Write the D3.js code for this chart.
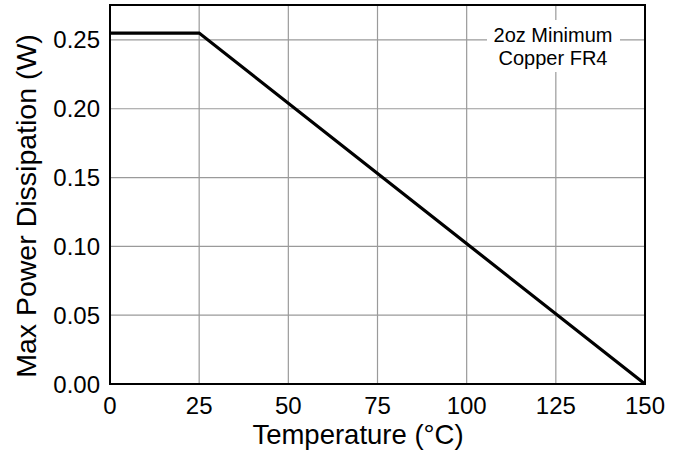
<!DOCTYPE html>
<meta charset="utf-8">
<script src="https://d3js.org/d3.v7.min.js"></script>
<style>
  body { margin: 0; background: #fff; }
  text { font-family: "Liberation Sans", Arial, sans-serif; fill: #000; }
</style>
<svg id="chart" width="683" height="455"></svg>
<script>
  // data
  var temps = [0, 25, 150];
  var power = [0.255, 0.255, 0];
  var xTicks = [0, 25, 50, 75, 100, 125, 150];
  var yTicks = [0, 0.05, 0.10, 0.15, 0.20, 0.25];

  var svg = d3.select("#chart");
  var plotL = 110, plotR = 645, plotT = 5, plotB = 384;

  var x = d3.scaleLinear().domain([0, 150]).range([plotL, plotR]);
  var y = d3.scaleLinear().domain([0, 0.2754]).range([plotB, plotT]);

  // grid
  var grid = svg.append("g").attr("stroke", "#9a9a9a").attr("stroke-width", 1.2);
  grid.selectAll("line.v").data(xTicks.slice(1, -1)).enter().append("line")
    .attr("x1", d => x(d)).attr("x2", d => x(d))
    .attr("y1", plotT).attr("y2", plotB);
  grid.selectAll("line.h").data(yTicks.slice(1)).enter().append("line")
    .attr("x1", plotL).attr("x2", plotR)
    .attr("y1", d => y(d)).attr("y2", d => y(d));

  // note box
  svg.append("rect").attr("x", 487).attr("y", 20).attr("width", 133).attr("height", 52).attr("fill", "#fff");
  var note = svg.append("text").attr("text-anchor", "middle").style("font-size", "20px");
  note.append("tspan").attr("x", 553).attr("y", 42).text("2oz Minimum");
  note.append("tspan").attr("x", 553).attr("y", 65).text("Copper FR4");

  // frame
  svg.append("rect").attr("x", plotL).attr("y", plotT)
    .attr("width", plotR - plotL).attr("height", plotB - plotT)
    .attr("fill", "none").attr("stroke", "#000").attr("stroke-width", 2);

  // curve
  var line = d3.line().x((d, i) => x(temps[i])).y(d => y(d));
  svg.append("path").datum(power).attr("d", line)
    .attr("fill", "none").attr("stroke", "#000").attr("stroke-width", 3.2);

  // tick labels
  svg.selectAll("text.xt").data(xTicks).enter().append("text")
    .attr("x", d => x(d)).attr("y", 414).attr("text-anchor", "middle")
    .style("font-size", "24px").text(d => d);
  svg.selectAll("text.yt").data(yTicks).enter().append("text")
    .attr("x", 100).attr("y", d => y(d) + 8.5).attr("text-anchor", "end")
    .style("font-size", "24px").text(d => d3.format(".2f")(d));

  // axis titles
  svg.append("text").attr("x", 358).attr("y", 444).attr("text-anchor", "middle")
    .style("font-size", "27.5px").text("Temperature (°C)");
  svg.append("text").attr("transform", "translate(36,206) rotate(-90)")
    .attr("text-anchor", "middle").style("font-size", "28.5px").text("Max Power Dissipation (W)");
</script>
